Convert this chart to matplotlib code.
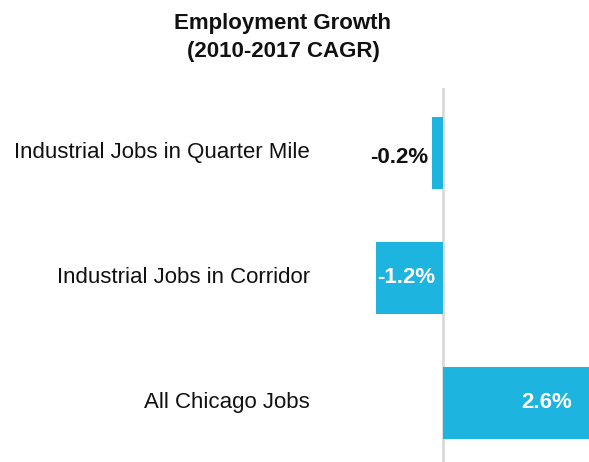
import matplotlib.pyplot as plt

plt.rcParams["font.family"] = ["Liberation Sans", "DejaVu Sans"]

categories = ["Industrial Jobs in Quarter Mile", "Industrial Jobs in Corridor", "All Chicago Jobs"]
values = [-0.2, -1.2, 2.6]
value_labels = ["-0.2%", "-1.2%", "2.6%"]

BAR = "#1DB4DF"

W, H = 589, 462
fig = plt.figure(figsize=(W / 100, H / 100), dpi=100)
# axes spans from the top of the zero line (y=88px) to the bottom edge
ax = fig.add_axes([0, 0, 1, (H - 88) / H])

zero_px = 443
scale = (W - zero_px) / 2.6
ax.set_xlim(-zero_px / scale, 2.6)
ax.set_ylim(2.476, -0.516)

ypos = range(len(categories))
ax.barh(ypos, values, height=0.576, color=BAR, zorder=2)
ax.axvline(0, color="#d9d9d9", lw=2, zorder=1)

label_x = (310 - zero_px) / scale
for y, cat in zip(ypos, categories):
    ax.text(label_x, y, cat, ha="right", va="center", fontsize=16, color="#111111")

# value labels
ax.text(values[0] - 0.06, 0.04, value_labels[0], ha="right", va="center",
        fontsize=16, fontweight="bold", color="#111111")
ax.text(values[1] / 2 - 0.05, 1, value_labels[1], ha="center", va="center",
        fontsize=16, fontweight="bold", color="white")
ax.text(values[2] - 0.3, 2, value_labels[2], ha="right", va="center",
        fontsize=16, fontweight="bold", color="white")

ax.axis("off")

fig.text(283 / W, 1 - 23 / H, "Employment Growth", ha="center", va="center",
         fontsize=16, fontweight="bold", color="#111111")
fig.text(283 / W, 1 - 52 / H, "(2010-2017 CAGR)", ha="center", va="center",
         fontsize=16, fontweight="bold", color="#111111")

fig.savefig("out.png", dpi=100)
